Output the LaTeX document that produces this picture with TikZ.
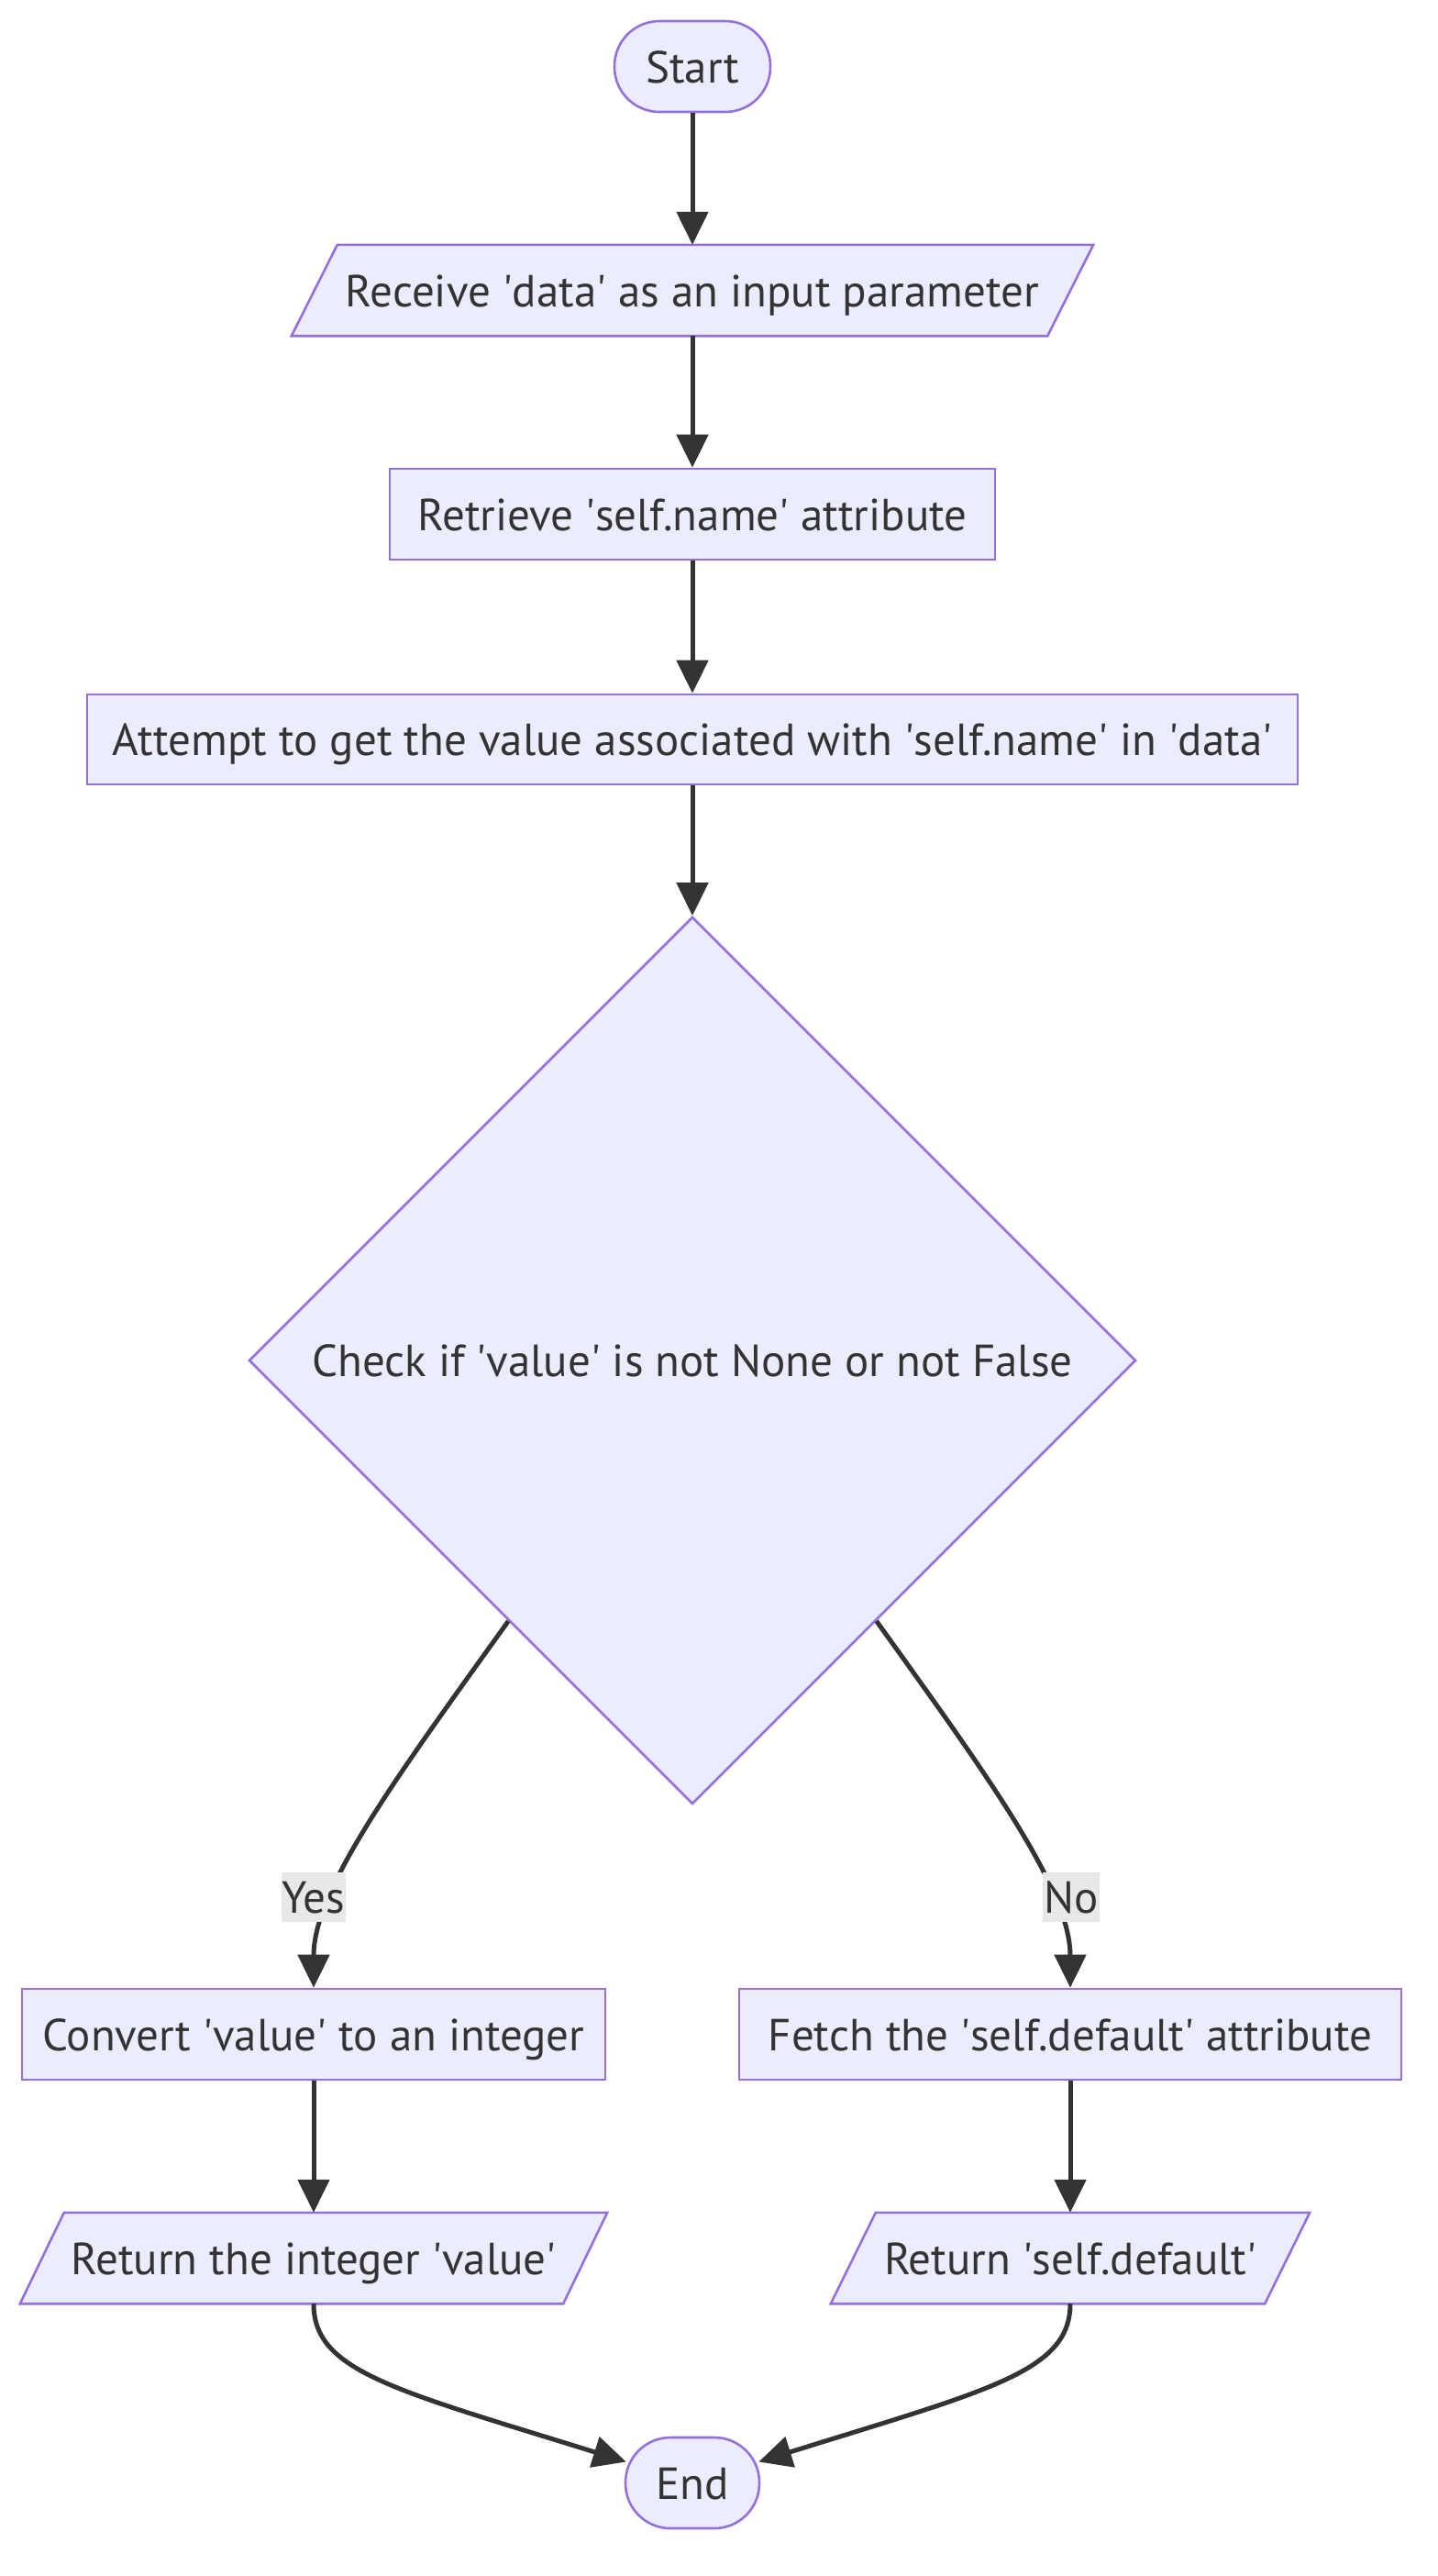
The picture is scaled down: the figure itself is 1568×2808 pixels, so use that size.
\documentclass[tikz,border=0pt]{standalone}
\usepackage{fontspec}
\setmainfont{PT Sans}
\usetikzlibrary{shapes.geometric,arrows.meta,backgrounds,calc}
\definecolor{nfill}{HTML}{ECECFF}
\definecolor{nborder}{HTML}{9370DB}
\definecolor{edgec}{HTML}{333333}
\definecolor{lblbg}{HTML}{E8E8E8}
\newcommand{\qs}{\textquotesingle}
\begin{document}
\begin{tikzpicture}[x=1pt,y=-1pt,
  base/.style={font=\fontsize{49}{58}\selectfont, text=edgec, inner sep=0pt, text height=35pt, text depth=0pt},
  box/.style={base, draw=nborder, fill=nfill, line width=2.6pt, minimum height=99pt},
  term/.style={box, rounded corners=49pt},
  pg/.style={base, minimum height=99pt},
  pgdraw/.style={draw=nborder, fill=nfill, line width=2.6pt},
  dia/.style={base, diamond, draw=nborder, fill=nfill, line width=2.6pt, minimum width=967pt, minimum height=967pt},
  edge/.style={draw=edgec, line width=5pt, -{Triangle[length=36pt,width=34pt]}},
  lbl/.style={base, fill=lblbg, minimum height=54pt, inner xsep=1pt}]
\useasboundingbox (0,0) rectangle (1568,2808);

\node[term, minimum width=170pt] (start) at (755,72.5) {Start};
\node[pg, minimum width=874pt] (recv) at (755,316.5) {Receive \qs data\qs{} as an input parameter};
\node[box, minimum width=660pt] (retr) at (755,560.5) {Retrieve \qs self.name\qs{} attribute};
\node[box, minimum width=1320pt, minimum height=98pt] (att) at (755,806) {Attempt to get the value associated with \qs self.name\qs{} in \qs data\qs};
\node[dia] (dia) at (755,1483) {Check if \qs value\qs{} is not None or not False};
\node[box, minimum width=636pt] (conv) at (342,2217.5) {Convert \qs value\qs{} to an integer};
\node[box, minimum width=722pt] (fetch) at (1167,2217.5) {Fetch the \qs self.default\qs{} attribute};
\node[pg, minimum width=640pt] (ret1) at (342,2461.5) {Return the integer \qs value\qs};
\node[pg, minimum width=522pt] (ret2) at (1167,2461.5) {Return \qs self.default\qs};
\node[term, minimum width=146pt] (end) at (755,2706.5) {End};

\begin{scope}[on background layer]
  \foreach \n/\s in {recv/50, ret1/48, ret2/49}{
    \filldraw[pgdraw] ($(\n.north west)+(\s,0)$) -- (\n.north east) -- ($(\n.south east)+(-\s,0)$) -- (\n.south west) -- cycle;
  }
\end{scope}

\draw[edge] (start) -- (recv);
\draw[edge] (recv) -- (retr);
\draw[edge] (retr) -- (att);
\draw[edge] (att) -- (dia);
\draw[edge] ($(dia.west)!0.586!(dia.south)$) .. controls (430,1940) and (342,2060) .. (conv.north);
\draw[edge] ($(dia.east)!0.586!(dia.south)$) .. controls (1080,1940) and (1167,2060) .. (fetch.north);
\draw[edge] (conv) -- (ret1);
\draw[edge] (fetch) -- (ret2);
\draw[edge] (ret1.south) .. controls (342,2585) and (430,2605) .. ($(end.west)+(2,-23)$);
\draw[edge] (ret2.south) .. controls (1167,2585) and (1079,2605) .. ($(end.east)+(-2,-23)$);

\node[lbl] (yes) at (342,2068) {Yes};
\node[lbl] (no) at (1168,2068) {No};
\end{tikzpicture}
\end{document}
